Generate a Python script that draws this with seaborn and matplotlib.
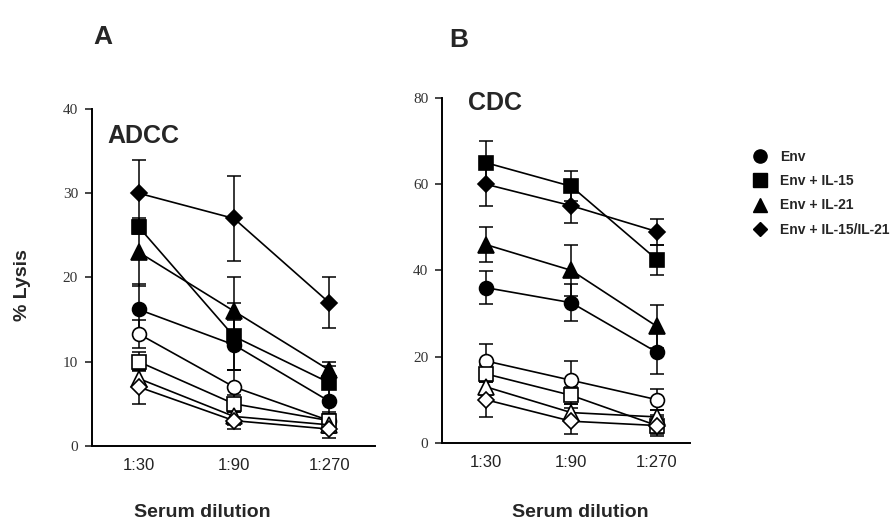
import matplotlib
matplotlib.use("Agg")
import matplotlib.pyplot as plt
from matplotlib.lines import Line2D
import seaborn as sns
import pandas as pd
import numpy as np

sns.set_theme(style="ticks")
plt.rcParams["font.family"] = ["Liberation Sans", "DejaVu Sans"]

# Serum dilutions on the x axis
dilutions = ["1:30", "1:90", "1:270"]
groups = ["Env", "Env + IL-15", "Env + IL-21", "Env + IL-15/IL-21"]
group_markers = ["o", "s", "^", "D"]

# ADCC: % lysis (filled = immune, open = control), with SD
adcc_env = [16.2, 12.0, 5.3]
adcc_il15 = [26.0, 13.0, 7.5]
adcc_il21 = [23.0, 16.0, 9.0]
adcc_il15_il21 = [30.0, 27.0, 17.0]
adcc_env_ctrl = [13.3, 7.0, 3.0]
adcc_il15_ctrl = [10.0, 5.0, 3.0]
adcc_il21_ctrl = [8.0, 3.5, 2.5]
adcc_il15_il21_ctrl = [7.0, 3.0, 2.0]

adcc_env_sd = [3.0, 3.0, 1.5]
adcc_il15_sd = [0.8, 4.0, 2.0]
adcc_il21_sd = [4.0, 4.0, 1.0]
adcc_il15_il21_sd = [4.0, 5.0, 3.0]
adcc_env_ctrl_sd = [1.7, 2.0, 1.0]
adcc_il15_ctrl_sd = [1.1, 1.0, 0.8]
adcc_il21_ctrl_sd = [1.0, 1.0, 1.0]
adcc_il15_il21_ctrl_sd = [2.0, 1.0, 1.0]

# CDC: % lysis, with SD
cdc_env = [36.0, 32.5, 21.0]
cdc_il15 = [65.0, 59.5, 42.5]
cdc_il21 = [46.0, 40.0, 27.0]
cdc_il15_il21 = [60.0, 55.0, 49.0]
cdc_env_ctrl = [19.0, 14.5, 10.0]
cdc_il15_ctrl = [16.0, 11.0, 4.0]
cdc_il21_ctrl = [13.0, 7.0, 6.0]
cdc_il15_il21_ctrl = [10.0, 5.0, 4.0]

cdc_env_sd = [3.8, 4.3, 5.0]
cdc_il15_sd = [5.0, 3.5, 3.5]
cdc_il21_sd = [4.0, 6.0, 5.0]
cdc_il15_il21_sd = [5.0, 4.0, 3.0]
cdc_env_ctrl_sd = [4.0, 4.5, 2.5]
cdc_il15_ctrl_sd = [2.0, 2.0, 2.0]
cdc_il21_ctrl_sd = [2.0, 2.0, 1.5]
cdc_il15_il21_ctrl_sd = [4.0, 3.0, 2.5]


def build_frame(filled, filled_sd, ctrl, ctrl_sd):
    rows = []
    for gi, g in enumerate(groups):
        for kind, vals, sds in (("ctrl", ctrl[gi], ctrl_sd[gi]), ("filled", filled[gi], filled_sd[gi])):
            for di, d in enumerate(dilutions):
                rows.append(dict(group=g, kind=kind, pos=di, dilution=d,
                                 lysis=vals[di], sd=sds[di], marker=group_markers[gi]))
    return pd.DataFrame(rows)


adcc = build_frame([adcc_env, adcc_il15, adcc_il21, adcc_il15_il21],
                   [adcc_env_sd, adcc_il15_sd, adcc_il21_sd, adcc_il15_il21_sd],
                   [adcc_env_ctrl, adcc_il15_ctrl, adcc_il21_ctrl, adcc_il15_il21_ctrl],
                   [adcc_env_ctrl_sd, adcc_il15_ctrl_sd, adcc_il21_ctrl_sd, adcc_il15_il21_ctrl_sd])
cdc = build_frame([cdc_env, cdc_il15, cdc_il21, cdc_il15_il21],
                  [cdc_env_sd, cdc_il15_sd, cdc_il21_sd, cdc_il15_il21_sd],
                  [cdc_env_ctrl, cdc_il15_ctrl, cdc_il21_ctrl, cdc_il15_il21_ctrl],
                  [cdc_env_ctrl_sd, cdc_il15_ctrl_sd, cdc_il21_ctrl_sd, cdc_il15_il21_ctrl_sd])

fig = plt.figure(figsize=(8.93, 5.24), dpi=100)
axA = fig.add_axes([0.103, 0.149, 0.317, 0.643])
axB = fig.add_axes([0.495, 0.155, 0.278, 0.658])

marker_sizes = {"o": 10, "s": 10, "^": 11, "D": 8}


def draw_panel(ax, df, ymax, yticks, xlim, title, title_xy):
    for (g, kind), sub in df.groupby(["group", "kind"], sort=False):
        sub = sub.sort_values("pos")
        ax.errorbar(sub["pos"], sub["lysis"], yerr=sub["sd"], fmt="none",
                    ecolor="black", elinewidth=1.1, capsize=5, capthick=1.1, zorder=2)
    for (g, kind), sub in df.groupby(["group", "kind"], sort=False):
        m = sub["marker"].iloc[0]
        face = "black" if kind == "filled" else "white"
        sns.lineplot(data=sub, x="pos", y="lysis", ax=ax, color="black", linewidth=1.2,
                     marker=m, markersize=marker_sizes[m], markerfacecolor=face,
                     markeredgecolor="black", markeredgewidth=1.2, zorder=3,
                     errorbar=None, legend=False)
    ax.set_ylim(0, ymax)
    ax.set_xlim(*xlim)
    ax.set_yticks(yticks)
    ax.set_yticklabels([str(t) for t in yticks], fontfamily="Liberation Serif", fontsize=11,
                       color="#333333")
    ax.set_xticks(range(len(dilutions)))
    ax.set_xticklabels(dilutions, fontsize=12, color="#222222")
    ax.tick_params(axis="x", length=0, pad=9)
    ax.tick_params(axis="y", length=5, width=1.2, direction="out", pad=5)
    ax.set_xlabel("")
    ax.set_ylabel("")
    for s in ("top", "right"):
        ax.spines[s].set_visible(False)
    for s in ("left", "bottom"):
        ax.spines[s].set_linewidth(1.4)
        ax.spines[s].set_color("black")
    ax.text(title_xy[0], title_xy[1], title, transform=ax.transAxes, fontsize=18,
            fontweight="bold", va="center", ha="left")


draw_panel(axA, adcc, 40, [0, 10, 20, 30, 40], (-0.49, 2.48), "ADCC", (0.055, 0.92))
draw_panel(axB, cdc, 80, [0, 20, 40, 60, 80], (-0.51, 2.39), "CDC", (0.105, 0.985))

fig.text(0.104, 0.93, "A", fontsize=19, fontweight="bold", ha="left", va="center")
fig.text(0.503, 0.924, "B", fontsize=19, fontweight="bold", ha="left", va="center")
fig.text(0.025, 0.456, "% Lysis", fontsize=14, fontweight="bold", rotation=90,
         ha="center", va="center")
fig.text(0.226, 0.021, "Serum dilution", fontsize=14, fontweight="bold", ha="center", va="center")
fig.text(0.650, 0.021, "Serum dilution", fontsize=14, fontweight="bold", ha="center", va="center")

handles = [Line2D([], [], linestyle="none", marker=m, markersize=marker_sizes[m] * 0.95,
                  markerfacecolor="black", markeredgecolor="black") for m in group_markers]
fig.legend(handles, groups, loc="upper left", bbox_to_anchor=(0.835, 0.725), frameon=False,
           prop=dict(weight="bold", size=10), handletextpad=0.9, labelspacing=0.75,
           handlelength=1.2, borderaxespad=0)

fig.savefig("out.png", dpi=100)
